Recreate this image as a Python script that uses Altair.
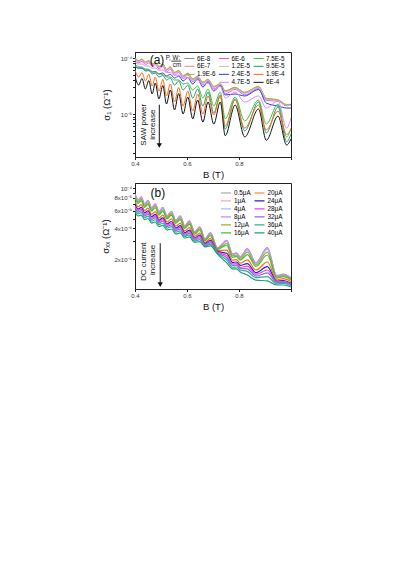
import altair as alt
import pandas as pd

# ---------------- panel (a): sigma_1 vs B, SAW power series ----------------
B_a = [0.400, 0.414, 0.427, 0.440, 0.453, 0.466, 0.478, 0.492, 0.507, 0.521,
       0.536, 0.552, 0.568, 0.585, 0.603, 0.622, 0.641, 0.661, 0.681, 0.703,
       0.728, 0.747, 0.785, 0.822, 0.875, 0.905, 0.950, 0.983, 1.000]

# values in units of 1e-5 Ohm^-1
a_6E8 = [9.6, 8.8, 9.4, 8.3, 8.8, 7.65, 8.1, 6.9, 7.65, 6.1, 6.75, 5.4, 5.85, 4.67, 5.2,
         4.13, 4.57, 3.58, 4.05, 3.03, 3.36, 2.52, 2.91, 2.37, 3.03, 1.85, 1.75, 1.42, 1.45]
a_6E7 = [9.9, 8.9, 9.5, 8.4, 8.9, 7.75, 8.2, 7.0, 7.75, 6.2, 6.85, 5.5, 5.95, 4.75, 5.3,
         4.2, 4.65, 3.65, 4.12, 3.08, 3.42, 2.56, 2.96, 2.41, 3.08, 1.9, 1.78, 1.46, 1.47]
a_1p9E6 = [10.2, 9.0, 9.6, 8.5, 9.0, 7.85, 8.3, 7.1, 7.85, 6.3, 6.95, 5.55, 6.0, 4.8, 5.35,
           4.25, 4.7, 3.7, 4.18, 3.12, 3.46, 2.6, 3.0, 2.44, 3.12, 1.92, 1.8, 1.48, 1.49]
a_6E6 = [9.0, 8.2, 8.7, 7.7, 8.2, 7.1, 7.6, 6.4, 7.1, 5.6, 6.3, 4.95, 5.5, 4.3, 4.95,
         3.8, 4.35, 3.3, 3.85, 2.8, 3.2, 2.3, 2.75, 2.2, 2.85, 1.75, 1.7, 1.4, 1.47]
a_1p2E5 = [9.4, 8.6, 9.2, 8.1, 8.6, 7.5, 7.95, 6.8, 7.5, 6.0, 6.6, 5.3, 5.75, 4.6, 5.1,
           4.05, 4.5, 3.52, 3.98, 2.98, 3.3, 2.48, 2.86, 2.33, 2.98, 1.83, 1.72, 1.41, 1.43]
a_2p4E5 = [7.2, 6.6, 6.6, 6.1, 6.1, 5.6, 5.74, 5.2, 5.4, 4.77, 5.1, 4.39, 4.77, 3.89, 4.48,
           3.43, 4.22, 3.03, 3.73, 2.57, 3.23, 2.19, 2.28, 2.1, 2.74, 1.57, 1.39, 1.28, 1.28]
a_4p7E5 = [8.4, 7.8, 7.8, 7.2, 7.2, 6.6, 6.6, 6.1, 6.1, 5.5, 5.5, 4.95, 4.95, 4.39, 4.48,
           3.89, 4.05, 3.29, 3.58, 2.68, 3.16, 1.93, 2.47, 1.64, 2.1, 1.28, 1.71, 0.56, 0.85]
a_7p5E5 = [7.5, 7.05, 6.9, 6.4, 6.25, 5.74, 5.6, 5.2, 5.1, 4.57, 4.57, 4.05, 4.05, 3.43, 3.58,
           2.68, 3.16, 1.93, 2.79, 1.39, 2.47, 0.82, 2.01, 0.75, 1.78, 0.66, 1.51, 0.39, 0.56]
a_9p5E5 = [7.2, 6.6, 6.6, 5.85, 5.95, 5.2, 5.4, 4.57, 4.9, 4.05, 4.39, 3.29, 3.89, 2.68, 3.29,
           1.93, 2.79, 1.39, 2.47, 1.04, 2.19, 0.54, 1.86, 0.5, 1.64, 0.46, 1.33, 0.32, 0.44]
a_1p9E4 = [6.1, 4.57, 5.5, 3.89, 5.1, 3.16, 4.57, 2.57, 4.13, 2.1, 3.43, 1.64, 2.97, 1.39, 2.57,
           1.13, 2.28, 1.0, 2.1, 0.96, 2.1, 0.61, 1.78, 0.56, 1.45, 0.52, 1.13, 0.43, 0.54]
a_6E4 = [4.77, 3.29, 4.30, 2.79, 3.96, 2.28, 3.58, 1.86, 3.23, 1.51, 2.68, 1.18, 2.32, 1.00, 2.01,
         0.82, 1.78, 0.72, 1.64, 0.66, 1.64, 0.41, 1.45, 0.39, 1.23, 0.34, 0.92, 0.28, 0.36]

a_names = ["6E-8", "6E-7", "1.9E-6", "6E-6", "1.2E-5", "2.4E-5", "4.7E-5",
           "7.5E-5", "9.5E-5", "1.9E-4", "6E-4"]
a_vals = [a_6E8, a_6E7, a_1p9E6, a_6E6, a_1p2E5, a_2p4E5, a_4p7E5,
          a_7p5E5, a_9p5E5, a_1p9E4, a_6E4]

# ---------------- panel (b): sigma_xx vs B, DC current series ----------------
B_b = [0.400, 0.412, 0.424, 0.437, 0.450, 0.464, 0.478, 0.492, 0.507, 0.523,
       0.540, 0.557, 0.574, 0.591, 0.609, 0.629, 0.649, 0.669, 0.690, 0.717,
       0.753, 0.775, 0.790, 0.805, 0.832, 0.865, 0.909, 0.945, 0.970, 1.000]

b_0p5 = [8.73, 7.62, 8.15, 6.96, 7.53, 6.36, 6.96, 5.81, 6.43, 5.30, 5.87, 4.78, 5.30, 4.23, 4.73,
         3.69, 4.13, 3.15, 3.61, 2.57, 3.04, 2.24, 2.29, 2.09, 2.51, 1.83, 2.57, 1.36, 1.41, 1.30]
b_1 = [8.62, 7.53, 8.05, 6.89, 7.43, 6.30, 6.87, 5.75, 6.34, 5.25, 5.79, 4.73, 5.23, 4.20, 4.67,
       3.67, 4.09, 3.14, 3.58, 2.56, 3.00, 2.22, 2.27, 2.07, 2.47, 1.82, 2.52, 1.36, 1.40, 1.30]
b_4 = [8.55, 7.47, 7.98, 6.84, 7.37, 6.25, 6.81, 5.70, 6.29, 5.21, 5.74, 4.70, 5.19, 4.18, 4.64,
       3.65, 4.06, 3.13, 3.56, 2.55, 2.98, 2.21, 2.26, 2.06, 2.45, 1.81, 2.50, 1.35, 1.40, 1.29]
b_8 = [8.76, 7.65, 8.18, 6.98, 7.55, 6.38, 6.98, 5.83, 6.45, 5.31, 5.89, 4.79, 5.32, 4.24, 4.75,
       3.70, 4.15, 3.16, 3.63, 2.58, 3.06, 2.25, 2.30, 2.10, 2.53, 1.84, 2.59, 1.37, 1.42, 1.31]
b_12 = [8.30, 7.30, 7.76, 6.66, 7.17, 6.10, 6.62, 5.59, 6.11, 5.10, 5.60, 4.62, 5.07, 4.10, 4.53,
        3.59, 3.98, 3.08, 3.48, 2.53, 2.86, 2.15, 2.19, 2.01, 2.34, 1.75, 2.34, 1.33, 1.37, 1.27]
b_16 = [8.01, 7.06, 7.48, 6.46, 6.91, 5.92, 6.39, 5.42, 5.91, 4.96, 5.40, 4.49, 4.88, 4.00, 4.38,
        3.51, 3.86, 3.03, 3.39, 2.49, 2.74, 2.08, 2.12, 1.95, 2.21, 1.69, 2.19, 1.30, 1.34, 1.24]
b_20 = [7.35, 6.55, 6.86, 6.00, 6.34, 5.51, 5.86, 5.06, 5.41, 4.64, 4.96, 4.21, 4.51, 3.78, 4.07,
        3.34, 3.60, 2.91, 3.19, 2.42, 2.45, 1.95, 1.97, 1.82, 1.96, 1.56, 1.87, 1.25, 1.28, 1.20]
b_24 = [6.91, 6.20, 6.46, 5.70, 5.97, 5.23, 5.51, 4.81, 5.09, 4.42, 4.68, 4.02, 4.26, 3.62, 3.85,
        3.22, 3.43, 2.84, 3.05, 2.38, 2.28, 1.85, 1.87, 1.73, 1.80, 1.47, 1.68, 1.21, 1.23, 1.16]
b_28 = [6.63, 5.98, 6.20, 5.50, 5.73, 5.06, 5.29, 4.66, 4.88, 4.29, 4.50, 3.91, 4.10, 3.53, 3.72,
        3.15, 3.32, 2.79, 2.96, 2.34, 2.16, 1.79, 1.80, 1.66, 1.70, 1.41, 1.56, 1.19, 1.20, 1.14]
b_32 = [6.40, 5.78, 5.98, 5.32, 5.52, 4.90, 5.10, 4.52, 4.71, 4.17, 4.34, 3.79, 3.96, 3.44, 3.59,
        3.08, 3.22, 2.74, 2.88, 2.31, 2.06, 1.73, 1.74, 1.62, 1.60, 1.36, 1.46, 1.17, 1.18, 1.12]
b_36 = [6.11, 5.56, 5.72, 5.12, 5.28, 4.72, 4.87, 4.36, 4.50, 4.02, 4.16, 3.67, 3.79, 3.34, 3.46,
        3.00, 3.11, 2.69, 2.79, 2.28, 1.95, 1.66, 1.67, 1.56, 1.51, 1.31, 1.34, 1.14, 1.15, 1.09]
b_40 = [5.81, 5.30, 5.42, 4.89, 5.01, 4.52, 4.63, 4.18, 4.28, 3.86, 3.95, 3.53, 3.61, 3.22, 3.30,
        2.91, 2.97, 2.63, 2.69, 2.24, 1.83, 1.60, 1.60, 1.49, 1.39, 1.24, 1.22, 1.11, 1.11, 1.06]

b_names = ["0.5μA", "1μA", "4μA", "8μA", "12μA", "16μA", "20μA", "24μA",
           "28μA", "32μA", "36μA", "40μA"]
b_vals = [b_0p5, b_1, b_4, b_8, b_12, b_16, b_20, b_24, b_28, b_32, b_36, b_40]

# ---------------- styles ----------------
FONT = "Liberation Sans"
BLANK = " "
# legend fills column by column
leg_a = ["6E-8", "6E-7", "1.9E-6", BLANK, "6E-6", "1.2E-5", "2.4E-5", "4.7E-5",
         "7.5E-5", "9.5E-5", "1.9E-4", "6E-4"]
col_a = {"6E-8": "#8a8a8a", "6E-7": "#ff7f7f", "1.9E-6": "#a3b23a", "6E-6": "#ff45f5",
         "1.2E-5": "#c2c2c2", "2.4E-5": "#1f3cf0", "4.7E-5": "#d88cff", "7.5E-5": "#45c23c",
         "9.5E-5": "#1f9e78", "1.9E-4": "#ff6a14", "6E-4": "#111111", BLANK: "rgba(0,0,0,0)"}
w_a = {"6E-8": 1.0, "6E-7": 1.0, "1.9E-6": 1.2, "6E-6": 1.2, "1.2E-5": 1.0, "2.4E-5": 1.5,
       "4.7E-5": 2.2, "7.5E-5": 1.8, "9.5E-5": 1.5, "1.9E-4": 1.8, "6E-4": 2.8, BLANK: 1.0}

leg_b = b_names
col_b = {"0.5μA": "#9a9a9a", "1μA": "#ffa6b8", "4μA": "#a8bcff", "8μA": "#c58cf5",
         "12μA": "#9cae28", "16μA": "#3cc23a", "20μA": "#ff6a14", "24μA": "#2323c0",
         "28μA": "#ff3ce6", "32μA": "#8a6ae6", "36μA": "#2eb08c", "40μA": "#1f9e7c"}
w_b = {"0.5μA": 1.2, "1μA": 1.2, "4μA": 1.2, "8μA": 1.8, "12μA": 1.5, "16μA": 1.5,
       "20μA": 1.5, "24μA": 1.5, "28μA": 1.5, "32μA": 1.5, "36μA": 2.0, "40μA": 2.2}


def long_df(xs, names, vals):
    rows = []
    for n, vs in zip(names, vals):
        for x, v in zip(xs, vs):
            rows.append({"B": x, "s": v * 1e-5, "series": n})
    return pd.DataFrame(rows)


df_a = long_df(B_a, a_names, a_vals)
df_b = long_df(B_b, b_names, b_vals)

x_ticks = [0.4, 0.45, 0.5, 0.55, 0.6, 0.65, 0.7, 0.75, 0.8, 0.85, 0.9, 0.95, 1.0]
x_lab = "(abs(datum.value*10 - round(datum.value*10)) < 0.01 && datum.value < 0.95) ? format(datum.value, '.1f') : ''"


def x_enc():
    return alt.X("B:Q", scale=alt.Scale(domain=[0.4, 1.0], nice=False, zero=False),
                 axis=alt.Axis(values=x_ticks, labelExpr=x_lab, title="B (T)",
                               tickSize=2.5, labelPadding=1, titlePadding=3,
                               labelFlush=False, labelOverlap=False))


ya_ticks = [2e-6, 3e-6, 4e-6, 5e-6, 6e-6, 7e-6, 8e-6, 9e-6, 1e-5, 2e-5, 3e-5, 4e-5,
            5e-5, 6e-5, 7e-5, 8e-5, 9e-5, 1e-4]
ya_lab = ("abs(datum.value-1e-4) < 1e-9 ? '10⁻⁴' : "
          "(abs(datum.value-1e-5) < 1e-10 ? '10⁻⁵' : '')")
yb_ticks = [2e-5, 3e-5, 4e-5, 5e-5, 6e-5, 7e-5, 8e-5, 9e-5, 1e-4]
yb_lab = ("abs(datum.value-1e-4) < 1e-9 ? '10⁻⁴' : "
          "(abs(datum.value-8e-5) < 1e-9 ? '8x10⁻⁵' : "
          "(abs(datum.value-6e-5) < 1e-9 ? '6x10⁻⁵' : "
          "(abs(datum.value-4e-5) < 1e-9 ? '4x10⁻⁵' : "
          "(abs(datum.value-2e-5) < 1e-9 ? '2x10⁻⁵' : ''))))")

y_a = alt.Y("s:Q", scale=alt.Scale(type="log", domain=[1.71e-6, 1.28e-4], nice=False),
            axis=alt.Axis(values=ya_ticks, labelExpr=ya_lab, title="σ₁ (Ω⁻¹)",
                          tickSize=2.5, labelPadding=1, titlePadding=9, labelOverlap=False,
                          labelFlush=False))
y_b = alt.Y("s:Q", scale=alt.Scale(type="log", domain=[1.014e-5, 1.12e-4], nice=False),
            axis=alt.Axis(values=yb_ticks, labelExpr=yb_lab, title="σₓₓ (Ω⁻¹)",
                          tickSize=2.5, labelPadding=1, titlePadding=4, labelOverlap=False,
                          labelFlush=False))

leg_common = dict(orient="none", symbolType="stroke", symbolSize=100,
                  labelFontSize=6.3, labelFont=FONT, labelOffset=2,
                  padding=0, symbolStrokeWidth=1.5, title=None, rowPadding=0)

legend_a = alt.Legend(columns=3, legendX=49, legendY=2.5, columnPadding=2.5,
                      clipHeight=7.7, **leg_common)
legend_b = alt.Legend(columns=2, legendX=85, legendY=6, columnPadding=2.5,
                      clipHeight=7.8, **leg_common)

lines_a = alt.Chart(df_a).mark_line(interpolate="monotone", clip=True).encode(
    x=x_enc(), y=y_a,
    color=alt.Color("series:N", scale=alt.Scale(domain=leg_a, range=[col_a[k] for k in leg_a]),
                    legend=legend_a),
    strokeWidth=alt.StrokeWidth("series:N",
                                scale=alt.Scale(domain=leg_a, range=[w_a[k] for k in leg_a]),
                                legend=legend_a),
)

lines_b = alt.Chart(df_b).mark_line(interpolate="monotone", clip=True).encode(
    x=x_enc(), y=y_b,
    color=alt.Color("series:N", scale=alt.Scale(domain=leg_b, range=[col_b[k] for k in leg_b]),
                    legend=legend_b),
    strokeWidth=alt.StrokeWidth("series:N",
                                scale=alt.Scale(domain=leg_b, range=[w_b[k] for k in leg_b]),
                                legend=legend_b),
)

# ---------------- annotations ----------------
ann_a_txt = pd.DataFrame({"B": [0.4346, 0.471], "s": [6.44e-6, 6.44e-6],
                          "t": ["SAW power", "increase"]})
ann_b_txt = pd.DataFrame({"B": [0.4346, 0.471], "s": [1.88e-5, 1.96e-5],
                          "t": ["DC current", "increase"]})
lab_a = pd.DataFrame({"B": [0.4846], "s": [9.2e-5], "t": ["(a)"]})
lab_b = pd.DataFrame({"B": [0.488], "s": [8.93e-5], "t": ["(b)"]})
arr_a = pd.DataFrame({"B": [0.4935], "s": [1.47e-5], "s2": [2.9e-6], "tip": [2.75e-6]})
arr_b = pd.DataFrame({"B": [0.497], "s": [2.86e-5], "s2": [1.17e-5], "tip": [1.12e-5]})
# legend header of panel (a): "P, W / cm"
head_a = pd.DataFrame({"B": [0.546, 0.5615], "s": [1.02e-4, 7.5e-5], "t": ["P, W:", "cm"]})
bar_a = pd.DataFrame({"B": [0.540], "B2": [0.578], "s": [8.8e-5]})


def annotations(txt, lab, arr):
    t1 = alt.Chart(txt).mark_text(angle=270, fontSize=8, font=FONT, color="#111").encode(
        x="B:Q", y="s:Q", text="t:N")
    t2 = alt.Chart(lab).mark_text(fontSize=12, font=FONT, color="#111").encode(
        x="B:Q", y="s:Q", text="t:N")
    r = alt.Chart(arr).mark_rule(color="#111", strokeWidth=1).encode(
        x="B:Q", y="s:Q", y2="s2:Q")
    h = alt.Chart(arr).mark_point(shape="triangle-down", filled=True, color="#111",
                                  size=28, opacity=1).encode(x="B:Q", y="tip:Q")
    return [t1, t2, r, h]


head_txt = alt.Chart(head_a).mark_text(fontSize=6.3, font=FONT, color="#111").encode(
    x="B:Q", y="s:Q", text="t:N")
head_bar = alt.Chart(bar_a).mark_rule(color="#111", strokeWidth=0.8).encode(
    x="B:Q", x2="B2:Q", y="s:Q")

panel_a = alt.layer(lines_a, *annotations(ann_a_txt, lab_a, arr_a), head_txt, head_bar
                    ).properties(width=156, height=105)
panel_b = alt.layer(lines_b, *annotations(ann_b_txt, lab_b, arr_b)).properties(
    width=156, height=106)

chart = alt.vconcat(panel_a, panel_b, spacing=2).resolve_scale(
    color="independent", strokeWidth="independent", x="independent", y="independent"
).resolve_legend(color="independent", strokeWidth="independent").properties(
    padding={"left": 91, "top": 43, "right": 5, "bottom": 5}
).configure(font=FONT).configure_view(stroke="#222", strokeWidth=1).configure_axis(
    labelFont=FONT, titleFont=FONT, labelFontSize=6, titleFontSize=9.5,
    labelColor="#333", titleColor="#111", titleFontWeight="normal",
    domainColor="#222", tickColor="#222", grid=False
)

chart.save("out.html", embed_options={"renderer": "svg", "actions": False})
